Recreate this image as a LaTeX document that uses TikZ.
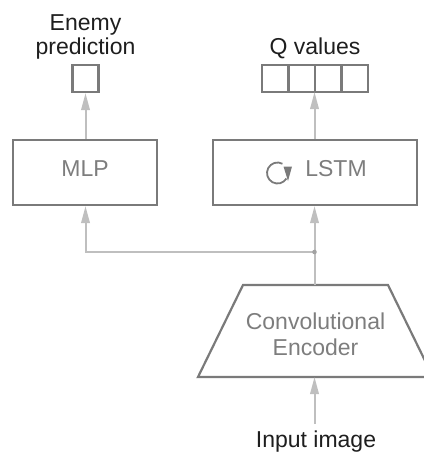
\documentclass[tikz,border=0pt]{standalone}
\usepackage{fontspec}
\setmainfont{Liberation Sans}
\usetikzlibrary{arrows.meta}
\definecolor{boxgray}{HTML}{7A7A7A}
\definecolor{linegray}{HTML}{BFBFBF}
\definecolor{txtgray}{HTML}{7D7D7D}
\definecolor{labelblack}{HTML}{1E1E1E}

\begin{document}
\begin{tikzpicture}[x=1pt,y=-1pt,
  box/.style={draw=boxgray,line width=2.2pt,inner sep=0pt},
  cell/.style={box,minimum width=26.5pt,minimum height=27pt},
  flow/.style={draw=linegray,line width=2pt,-{Triangle[length=17pt,width=8.5pt]}},
  intext/.style={text=txtgray,font=\fontsize{23}{26}\selectfont,anchor=base,inner sep=0pt},
  outtext/.style={text=labelblack,font=\fontsize{23}{26}\selectfont,anchor=base,inner sep=0pt}]
\useasboundingbox (0,0) rectangle (423,452);

% output labels
\node[outtext] (enemy1) at (85.5,31) {Enemy};
\node[outtext] (enemy2) at (85.5,55) {prediction};
\node[outtext] (qlabel) at (315,55) {Q values};

% output vectors
\node[cell,minimum width=26pt] (ep) at (85.5,78.5) {};
\node[cell] (q1) at (275.25,78.5) {};
\node[cell] (q2) at (301.75,78.5) {};
\node[cell] (q3) at (328.25,78.5) {};
\node[cell] (q4) at (354.75,78.5) {};
\coordinate (qin) at (314.5,92);

% heads
\node[box,minimum width=144pt,minimum height=65pt] (mlp) at (85,172.5) {};
\node[intext] (mlptext) at (85,176) {MLP};
\node[box,minimum width=204pt,minimum height=65pt] (lstm) at (315,172.5) {};
\node[intext] (lstmtext) at (336,176) {LSTM};
% recurrence icon
\coordinate (rc) at (277.5,173);
\begin{scope}[shift={(rc)},x=1pt,y=1pt]
  \draw[boxgray,line width=1.8pt] (62:10.5) arc[start angle=62,end angle=328,radius=10.5];
  \fill[boxgray] (6,6.5) -- (14.5,6.5) -- (10.5,-8) -- cycle;
\end{scope}

% encoder
\coordinate (tl) at (243,285);
\coordinate (tr) at (388,285);
\coordinate (br) at (433,377);
\coordinate (bl) at (198,377);
\draw[draw=boxgray,line width=2.2pt,line join=miter] (tl) -- (tr) -- (br) -- (bl) -- cycle;
\coordinate (enctop) at (314.5,285);
\coordinate (encbot) at (314.5,377);
\node[intext] (enc1) at (315.5,329) {Convolutional};
\node[intext] (enc2) at (315.5,355) {Encoder};

% input
\node[outtext,inner ysep=6pt] (inp) at (316,447) {Input image};

% connectors
\coordinate (j) at (314.5,252);
\draw[flow] (inp.north -| encbot) -- (encbot);
\draw[flow] (enctop) -- (lstm.south -| enctop);
\draw[flow] (j) -| (mlp.south -| ep);
\fill[linegray!85!black] (j) circle[radius=2.3];
\draw[flow] (mlp.north -| ep) -- (ep.south);
\draw[flow] (lstm.north -| qin) -- (qin);
\end{tikzpicture}
\end{document}
